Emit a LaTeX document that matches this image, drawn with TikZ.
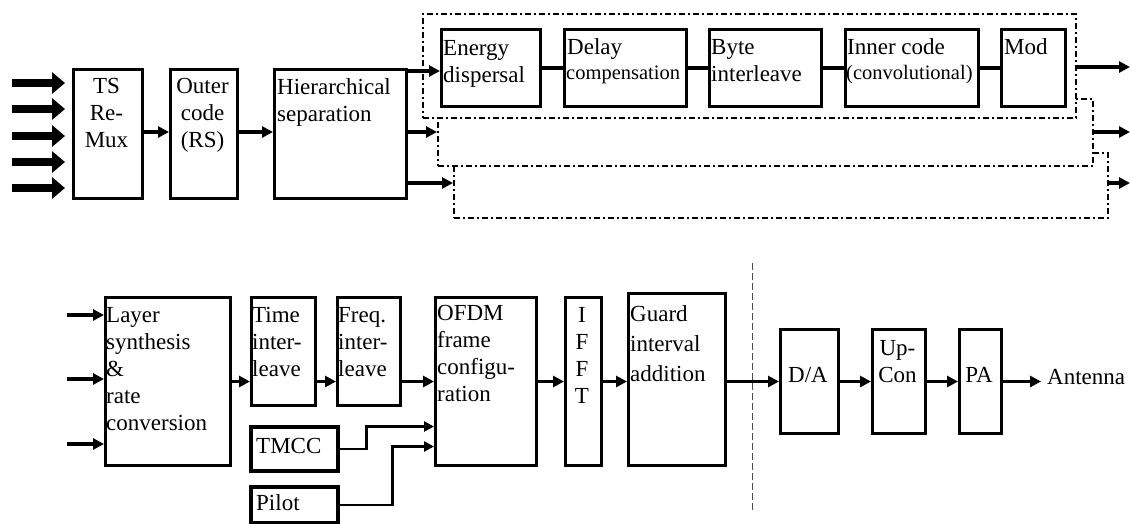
\documentclass[tikz,border=0pt]{standalone}
\usepackage{fontspec}
\setmainfont{Liberation Serif}
\usetikzlibrary{arrows.meta}
\newcommand\fz{\fontsize{23}{27}\selectfont}
\newcommand\fsm{\fontsize{20.5}{24}\selectfont}
\newcommand\blkbox[6][]{\node[blk,#1,anchor=north west,minimum width={(#4-#2)*1pt},minimum height={(#5-#3)*1pt}] (#6) at (#2,#3) {};}
\tikzset{
  blk/.style={draw, line width=3pt, inner sep=0pt, fill=white},
  dd/.style={line width=2pt, dash pattern=on 6pt off 3pt on 2pt off 3pt},
  ln/.style={line width=3.2pt},
  arr/.style={line width=3.2pt, -{Triangle[length=11pt,width=11pt]}},
  fat/.style={line width=8.5pt, -{Triangle[length=13pt,width=21pt]}},
  tl/.style={anchor=north west, align=left, inner sep=0pt, font=\fz},
  tc/.style={anchor=north, align=center, inner sep=0pt, font=\fz},
  tb/.style={anchor=base west, inner sep=0pt, font=\fz},
}
\begin{document}
\begin{tikzpicture}[x=1pt,y=-1pt]
\useasboundingbox[fill=white] (0,0) rectangle (1131,523);
% ---------- top row ----------
\foreach \i/\yy in {1/83,2/109,3/136,4/162,5/188}{
  \coordinate (in\i) at (12,\yy);
  \draw[fat] (in\i) -- ++(53,0);
}
\blkbox{72}{68}{141}{197}{ts}
\blkbox{169}{68}{236}{197}{outer}
\blkbox{273}{68}{405}{197}{hier}
\node[tc] (tst) at (106.5,78) {TS\\Re-\\Mux};
\node[tc] (outt) at (202.5,78) {Outer\\code\\(RS)};
\node[tl] (hiert) at (277,78) {Hierarchical\\separation};
\draw[arr] (ts.east |- 0,132) -- (outer.west |- 0,132);
\draw[arr] (outer.east |- 0,132) -- (hier.west |- 0,132);
% dash-dot layer boxes
\blkbox[dd]{453}{152}{1107}{217}{d3}
\blkbox[dd]{437}{98}{1092}{165}{d2}
\blkbox[dd]{422}{13}{1075}{117}{d1}
\blkbox{440}{28}{539}{105}{en}
\blkbox{563}{28}{685}{105}{dl}
\blkbox{708}{28}{820}{105}{by}
\blkbox{844}{28}{977}{105}{ic}
\blkbox{1000}{28}{1064}{105}{md}
\node[tl] (ent) at (443,40) {Energy\\dispersal};
\node[tb] (dlt) at (567,54) {Delay};
\node[anchor=base west, inner sep=0pt, font=\fsm] (dlt2) at (566,79) {compensation};
\node[tl] (byt) at (711,39) {Byte\\interleave};
\node[tb] (ict) at (847,54) {Inner code};
\node[anchor=base west, inner sep=0pt, font=\fsm] (ict2) at (846,79) {(convolutional)};
\node[tb] (mdt) at (1004,54) {Mod};
\draw[ln] (en) -- (dl);
\draw[ln] (dl) -- (by);
\draw[ln] (by) -- (ic);
\draw[ln] (ic) -- (md);
\coordinate (h1) at (405,71);
\coordinate (h2) at (405,132);
\coordinate (h3) at (405,183);
\draw[arr] (h1) -- (h1 -| en.west);
\draw[arr] (h2) -- (h2 -| d2.west);
\draw[arr] (h3) -- (h3 -| d3.west);
\coordinate (o1) at (1130,67);
\coordinate (o2) at (1130,132);
\coordinate (o3) at (1130,183);
\draw[arr] (d1.east |- o1) -- (o1);
\draw[arr] (d2.east |- o2) -- (o2);
\draw[arr] (d3.east |- o3) -- (o3);
% ---------- bottom row ----------
\blkbox{104}{296}{229}{464}{layer}
\blkbox{250}{296}{314}{404}{time}
\blkbox{336}{296}{399}{404}{freq}
\blkbox{434}{296}{535}{464}{ofdm}
\blkbox{564}{296}{600}{464}{ifft}
\blkbox{627}{292}{724}{464}{guard}
\blkbox{779}{328}{837}{432}{da}
\blkbox{871}{328}{924}{432}{upc}
\blkbox{958}{328}{1000}{432}{pa}
\blkbox[line width=3.6pt]{249}{425}{336}{469}{tmcc}
\blkbox[line width=3.6pt]{249}{485}{336}{521}{pilot}
\node[tl] (layert) at (106,307) {Layer\\synthesis\\\&\\rate\\conversion};
\node[tl] (timet) at (252,307) {Time\\inter-\\leave};
\node[tl] (freqt) at (338,307) {Freq.\\inter-\\leave};
\node[tl] (ofdmt) at (437,305) {OFDM\\frame\\configu-\\ration};
\node[tc] (ifftt) at (582,307) {I\\F\\F\\T};
\node[tl] (guardt) at (630,305) {Guard\\[3pt]interval\\[3pt]addition};
\node[anchor=base, inner sep=0pt, font=\fz] (dat) at (808,382) {D/A};
\node[tc] (upct) at (897.5,340) {Up-\\Con};
\node[anchor=base, inner sep=0pt, font=\fz] (pat) at (979,382) {PA};
\node[tb] (tmcct) at (256,453) {TMCC};
\node[tb] (pilott) at (256,510) {Pilot};
\node[tb] (ant) at (1047,384) {Antenna};
\foreach \i/\yy in {1/315,2/379,3/444}{
  \coordinate (li\i) at (67,\yy);
  \draw[arr] (li\i) -- (li\i -| layer.west);
}
\draw[arr] (layer.east) -- (layer.east -| time.west);
\draw[arr] (time.east |- layer.east) -- (freq.west |- layer.east);
\draw[arr] (freq.east |- layer.east) -- (ofdm.west |- layer.east);
\draw[arr] (ofdm.east) -- (ifft.west);
\draw[arr] (ifft.east) -- (guard.west |- ifft.east);
\draw[arr] (guard.east |- ifft.east) -- (da.west);
\draw[arr] (da.east) -- (upc.west);
\draw[arr] (upc.east) -- (pa.west);
\draw[arr] (pa.east) -- ([xshift=-6pt]ant.west |- pa.east);
\draw[line width=2.6pt, -{Triangle[length=10pt,width=10pt]}] (tmcc.east) -- ++(27,0) |- ([yshift=-45pt]ofdm.west);
\draw[line width=2.6pt, -{Triangle[length=10pt,width=10pt]}] (pilot.east) -- ++(53,0) |- ([yshift=-65pt]ofdm.west);
\coordinate (v1) at (752,263);
\coordinate (v2) at (752,513);
\draw[line width=0.8pt, black!70, dash pattern=on 7pt off 3pt] (v1) -- (v2);
\end{tikzpicture}
\end{document}
